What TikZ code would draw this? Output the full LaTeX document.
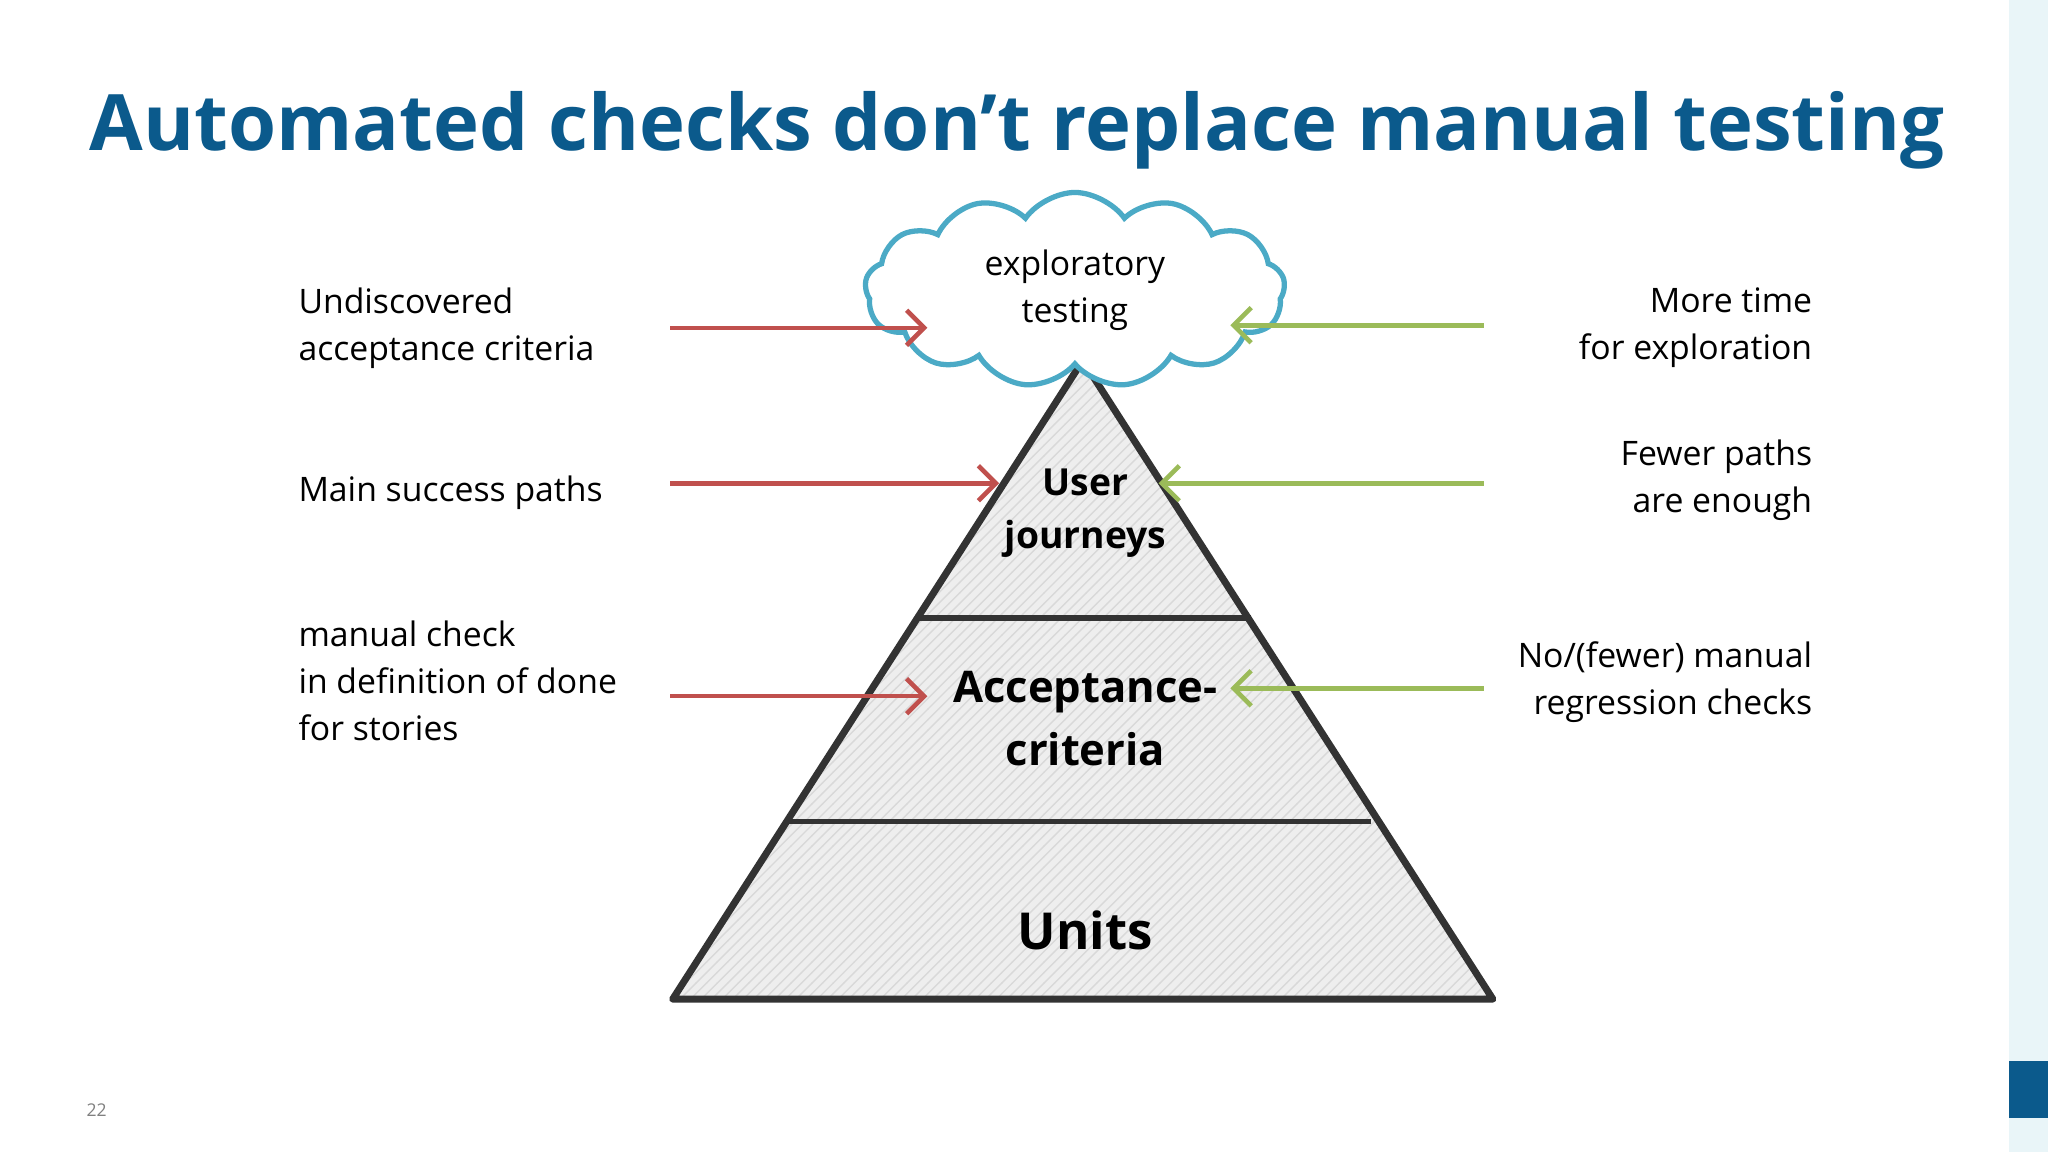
\documentclass[tikz,border=0pt]{standalone}
\usepackage{fontspec}
\setmainfont{Open Sans}
\usetikzlibrary{shapes.symbols,arrows.meta,positioning,patterns}
\definecolor{titleblue}{HTML}{0B5A8C}
\definecolor{cloudblue}{HTML}{4BAAC6}
\definecolor{arrred}{HTML}{C0504D}
\definecolor{arrgreen}{HTML}{9BBB59}
\tikzset{
  side/.style={font=\fontsize{9.6}{13.4}\selectfont,inner sep=0pt},
  layer/.style={font=\bfseries,align=center,inner sep=0pt},
  redarr/.style={draw=arrred,line width=1.3pt,-{Straight Barb[length=5pt]}},
  greenarr/.style={draw=arrgreen,line width=1.3pt,-{Straight Barb[length=5pt]}}
}
\begin{document}
\begin{tikzpicture}[x=0.013061cm,y=-0.013061cm]
\useasboundingbox (0,0) rectangle (1568,882);
\fill[white] (0,0) rectangle (1568,882);
% right strip
\fill[cloudblue!12] (1538,0) rectangle (1568,882);
\fill[titleblue] (1538,812) rectangle (1568,856);
% title
\node[anchor=west,text=titleblue,inner sep=0pt] (title) at (68,100)
  {\resizebox{18.55cm}{!}{\bfseries Automated checks don’t replace manual testing}};
\node[text=gray,font=\tiny,inner sep=0pt] (page) at (74,850) {22};

% pyramid
\fill[gray!13] (515,765) -- (829,276) -- (1143,765) -- cycle;
\fill[pattern=north east lines,pattern color=gray!30] (515,765) -- (829,276) -- (1143,765) -- cycle;
\draw[line width=2pt,black!80,line join=round] (515,765) -- (829,276) -- (1143,765) -- cycle;
\draw[line width=1.6pt,black!80] (703,473) -- (958,473);
\draw[line width=1.6pt,black!80] (603,629) -- (1050,629);

% cloud
\node[cloud,cloud puffs=13,cloud puff arc=110,aspect=2.2,draw=cloudblue,line width=1.5pt,fill=white,
  minimum width=4.2cm,minimum height=1.95cm,align=center,font=\fontsize{9.6}{13.4}\selectfont,inner sep=0pt]
  (explore) at (823,222) {exploratory\\testing};

% layer labels
\node[layer,font=\bfseries\fontsize{10.6}{15}\selectfont] (journeys) at (831,393) {User\\journeys};
\node[layer,font=\bfseries\fontsize{12.4}{18}\selectfont] (accept) at (831,550) {Acceptance-\\criteria};
\node[layer,font=\bfseries\fontsize{14.5}{18}\selectfont] (units) at (831,712) {Units};

% left side
\node[side,anchor=west,align=left] (undisc) at (228,251) {Undiscovered\\acceptance criteria};
\node[side,anchor=west,align=left] (mainpath) at (228,377) {Main success paths};
\node[side,anchor=west,align=left] (dod) at (228,521) {manual check\\in definition of done\\for stories};
% right side
\node[side,anchor=east,align=right] (moretime) at (1388,251) {More time\\for exploration};
\node[side,anchor=east,align=right] (fewer) at (1388,368) {Fewer paths\\are enough};
\node[side,anchor=east,align=right] (noreg) at (1388,522) {No/(fewer) manual\\regression checks};

% arrows
\coordinate (r1s) at (513,251); \coordinate (r1e) at (710,251);
\coordinate (r2s) at (513,370); \coordinate (r2e) at (765,370);
\coordinate (r3s) at (513,533); \coordinate (r3e) at (710,533);
\coordinate (g1s) at (1136,249); \coordinate (g1e) at (942,249);
\coordinate (g2s) at (1136,370); \coordinate (g2e) at (887,370);
\coordinate (g3s) at (1136,527); \coordinate (g3e) at (942,527);
\draw[redarr] (r1s) -- (r1e);
\draw[redarr] (r2s) -- (r2e);
\draw[redarr] (r3s) -- (r3e);
\draw[greenarr] (g1s) -- (g1e);
\draw[greenarr] (g2s) -- (g2e);
\draw[greenarr] (g3s) -- (g3e);
\end{tikzpicture}
\end{document}
